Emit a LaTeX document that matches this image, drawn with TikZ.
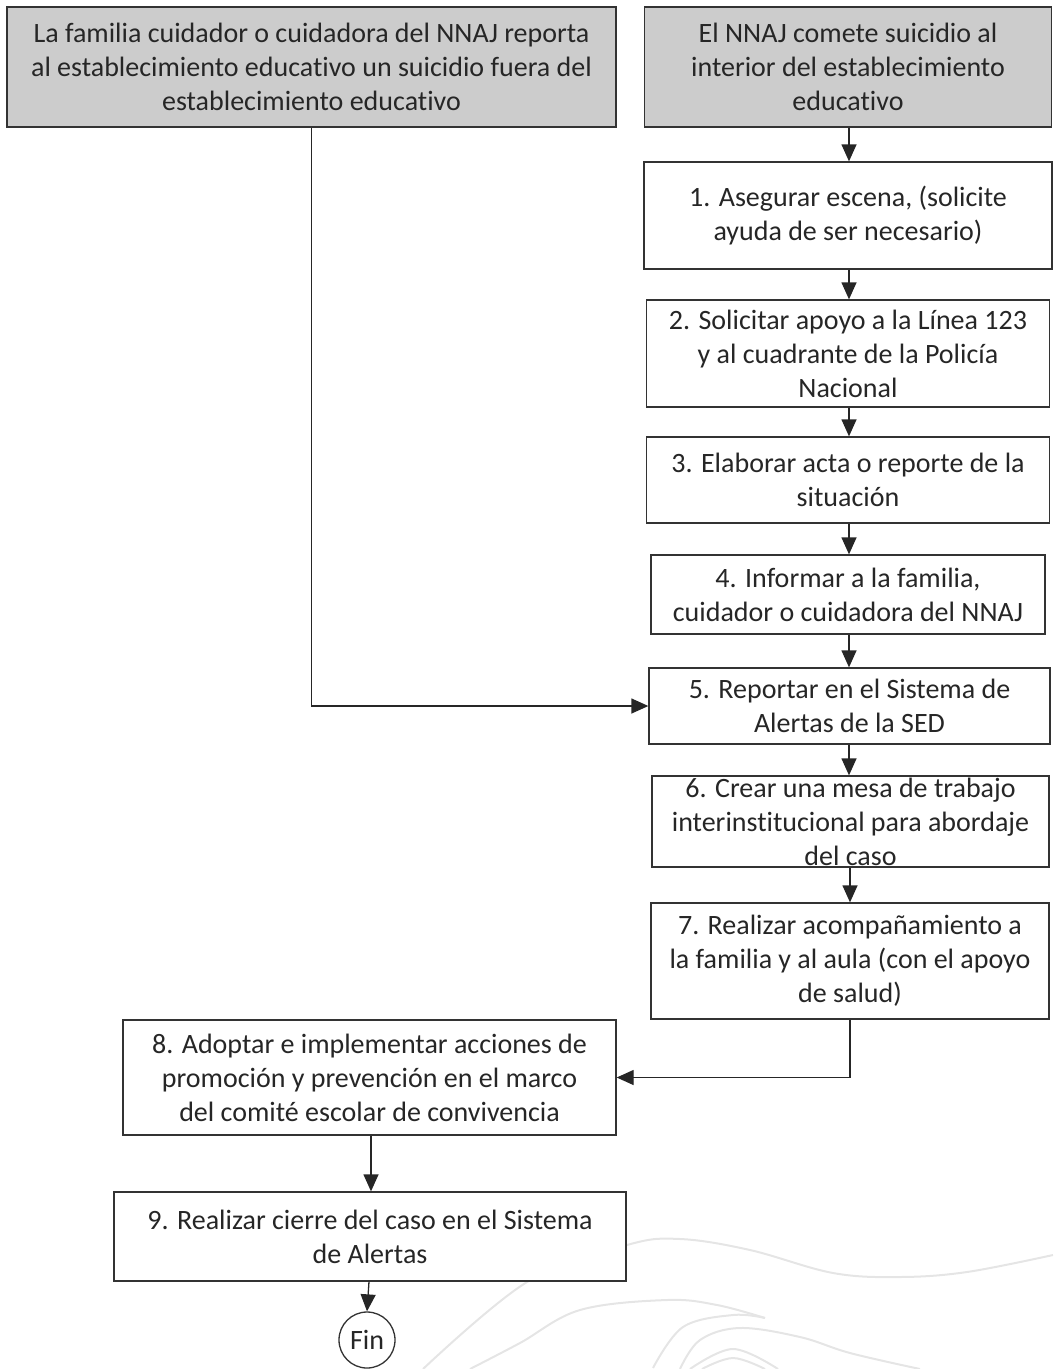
\documentclass[tikz,border=0pt]{standalone}
\usepackage{fontspec}
\setmainfont{Carlito}[Ligatures=NoCommon]
\usetikzlibrary{arrows.meta}
\begin{document}
\begin{tikzpicture}[x=1pt,y=-1pt,
  box/.style={draw=black!80, line width=1.3pt, fill=white, inner sep=0pt, align=center,
    text=black!85, font=\fontsize{28}{34}\selectfont},
  startbox/.style={box, fill=black!20},
  arr/.style={draw=black!85, line width=1.3pt, -{Triangle[length=17pt,width=15pt]}},
  wm/.style={draw=black!10, line width=2pt},
]
\useasboundingbox (0,0) rectangle (1053,1369);

% faint watermark curves
\draw[wm] plot[smooth, tension=0.6] coordinates {(423,1369) (527,1282) (627,1245) (680,1239) (750,1250) (833,1273) (900,1277) (967,1272) (1053,1255)};
\draw[wm] plot[smooth, tension=0.6] coordinates {(470,1369) (520,1343) (580,1310) (667,1300) (717,1305) (765,1318)};
\draw[wm] plot[smooth, tension=0.6] coordinates {(765,1318) (733,1315) (683,1327) (653,1368)};
\draw[wm] plot[smooth, tension=0.6] coordinates {(680,1369) (700,1340) (740,1328) (800,1337) (850,1353) (920,1369)};
\draw[wm] plot[smooth, tension=0.6] coordinates {(690,1369) (733,1349) (778,1369)};
\draw[wm] plot[smooth, tension=0.6] coordinates {(702,1369) (733,1358) (765,1369)};

% boxes
\node[startbox, minimum width=609pt, minimum height=120pt] (s1) at (311.5,67)
  {La familia cuidador o cuidadora del NNAJ reporta\\al establecimiento educativo un suicidio fuera del\\establecimiento educativo};
\node[startbox, minimum width=407pt, minimum height=120pt] (s2) at (848,67)
  {El NNAJ comete suicidio al\\interior del establecimiento\\educativo};
\node[box, minimum width=408pt, minimum height=107pt] (b1) at (848,215.5)
  {1. Asegurar escena, (solicite\\ayuda de ser necesario)};
\node[box, minimum width=403pt, minimum height=107pt] (b2) at (848,353.5)
  {2. Solicitar apoyo a la Línea 123\\y al cuadrante de la Policía\\Nacional};
\node[box, minimum width=403pt, minimum height=86pt] (b3) at (848,480)
  {3. Elaborar acta o reporte de la\\situación};
\node[box, minimum width=394pt, minimum height=79pt] (b4) at (848,594.5)
  {4. Informar a la familia,\\cuidador o cuidadora del NNAJ};
\node[box, minimum width=401pt, minimum height=76pt] (b5) at (849.5,706)
  {5. Reportar en el Sistema de\\Alertas de la SED};
\node[box, minimum width=397pt, minimum height=91pt, fill=none] (b6) at (850.5,821.5)
  {6. Crear una mesa de trabajo\\interinstitucional para abordaje\\del caso};
\node[box, minimum width=398pt, minimum height=116pt] (b7) at (850,961)
  {7. Realizar acompañamiento a\\la familia y al aula (con el apoyo\\de salud)};
\node[box, minimum width=493pt, minimum height=115pt] (b8) at (369.5,1077.5)
  {8. Adoptar e implementar  acciones de\\promoción y prevención en el marco\\del comité escolar de convivencia};
\node[box, minimum width=512pt, minimum height=89pt] (b9) at (370,1236.5)
  {9. Realizar cierre del caso en el Sistema\\de Alertas};
\node[box, circle, minimum size=56pt] (fin) at (367,1340) {Fin};

% connectors
\draw[arr] (s2.south -| 849,0) -- (b1.north -| 849,0);
\draw[arr] (b1.south -| 849,0) -- (b2.north -| 849,0);
\draw[arr] (b2.south -| 849,0) -- (b3.north -| 849,0);
\draw[arr] (b3.south -| 849,0) -- (b4.north -| 849,0);
\draw[arr] (b4.south -| 849,0) -- (b5.north -| 849,0);
\draw[arr] (b5.south -| 849,0) -- (b6.north -| 849,0);
\draw[arr] (b6.south -| 850,0) -- (b7.north -| 850,0);
\draw[arr] (s1.south) |- (b5.west);
\draw[arr] (b7.south) |- (b8.east);
\draw[arr] (b8.south -| 371,0) -- (b9.north -| 371,0);
\draw[arr] (b9.south -| 369,0) -- (fin.north);
\end{tikzpicture}
\end{document}
